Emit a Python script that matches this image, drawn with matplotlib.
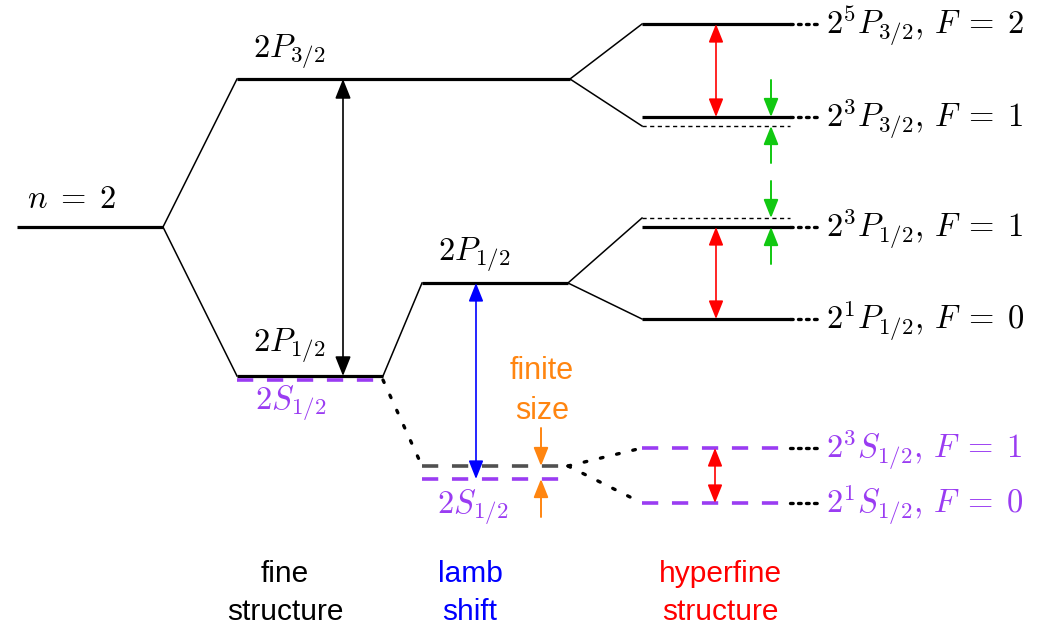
import matplotlib
matplotlib.use("Agg")
import matplotlib.pyplot as plt

plt.rcParams["mathtext.fontset"] = "cm"

# Energies in arbitrary units (higher = more energetic)
E_n2 = 401
E_fine = {"P32": 549, "P12": 252, "S12": 249}
E_lamb = {"P12": 345, "S12_dirac": 162, "S12": 149}
E_hfs_P = {"5P32": 604, "3P32": 511, "P32_bare": 502,
           "3P12": 401, "P12_bare": 410, "1P12": 309}
E_hfs_S = {"3S12": 180, "1S12": 125}

hfs_labels = [r"$2^5P_{3/2},\, F\;=\;2$", r"$2^3P_{3/2},\, F\;=\;1$",
              r"$2^3P_{1/2},\, F\;=\;1$", r"$2^1P_{1/2},\, F\;=\;0$",
              r"$2^3S_{1/2},\, F\;=\;1$", r"$2^1S_{1/2},\, F\;=\;0$"]
hfs_label_E = [E_hfs_P["5P32"], E_hfs_P["3P32"], E_hfs_P["3P12"],
               E_hfs_P["1P12"], E_hfs_S["3S12"], E_hfs_S["1S12"]]

bottom_titles = ["fine\nstructure", "lamb\nshift", "hyperfine\nstructure"]

# Column extents on the horizontal axis
col_n2 = (17, 163)
col_fine = (237, 383)
col_lamb = (422, 568)
col_hfs = (642, 790)
conn_end = 822

PURPLE = "#9a3cf2"
ORANGE = "#ff8510"
GREEN = "#11c811"
GRAY = "#505050"
SANS = "Liberation Sans"
MATH_FS = 23.5

fig = plt.figure(figsize=(10.43, 6.28), dpi=100)
ax = fig.add_axes([0, 0, 1, 1])
ax.set_xlim(0, 1043)
ax.set_ylim(0, 628)
ax.axis("off")

LW_LEVEL = 2.3
LW_THIN = 1.1
dash = (0, (4.5, 3.8))
dots_long = (0, (0.8, 4.2))
dots_short = (0, (0.8, 1.6))


def level(x, E, **kw):
    style = dict(color="k", lw=LW_LEVEL, solid_capstyle="butt")
    style.update(kw)
    ax.plot(x, [E, E], **style)


def link(x0, E0, x1, E1, **kw):
    style = dict(color="k", lw=LW_THIN)
    style.update(kw)
    ax.plot([x0, x1], [E0, E1], **style)


def double_arrow(x, E0, E1, color, ms=14):
    ax.annotate("", xy=(x, E1), xytext=(x, E0),
                arrowprops=dict(arrowstyle="<|-|>,head_length=0.8,head_width=0.32",
                                color=color, lw=1.2, shrinkA=0, shrinkB=0,
                                mutation_scale=ms))


def squeeze_arrows(x, E_top, E_bot, length, color):
    for start, end in [(E_top + length, E_top), (E_bot - length, E_bot)]:
        ax.annotate("", xy=(x, end), xytext=(x, start),
                    arrowprops=dict(arrowstyle="-|>,head_length=0.8,head_width=0.32",
                                    color=color, lw=1.4, shrinkA=0, shrinkB=0,
                                    mutation_scale=14))


# n = 2
level(col_n2, E_n2)
ax.text(27, E_n2 + 28, r"$n\;=\;2$", fontsize=MATH_FS, va="center", ha="left")

# Fine structure
link(col_n2[1], E_n2, col_fine[0], E_fine["P32"])
link(col_n2[1], E_n2, col_fine[0], E_fine["P12"])
level((col_fine[0], col_lamb[1] + 2), E_fine["P32"])
level(col_fine, E_fine["P12"])
level(col_fine, E_fine["S12"] - 1, color=PURPLE, ls=dash, lw=2.6)
double_arrow(343, E_fine["P12"], E_fine["P32"], "k", ms=15)
ax.text(253, E_fine["P32"] + 27, r"$2P_{3/2}$", fontsize=MATH_FS, va="center", ha="left")
ax.text(253, E_fine["P12"] + 30, r"$2P_{1/2}$", fontsize=MATH_FS, va="center", ha="left")
ax.text(255, E_fine["S12"] - 24, r"$2S_{1/2}$", fontsize=MATH_FS, va="center", ha="left",
        color=PURPLE)

# Lamb shift
link(col_fine[1], E_fine["P12"], col_lamb[0], E_lamb["P12"])
link(col_fine[1], E_fine["S12"] - 1, col_lamb[0], E_lamb["S12_dirac"],
     ls=dots_long, lw=2.4, dash_capstyle="round")
level(col_lamb, E_lamb["P12"])
level(col_lamb, E_lamb["S12_dirac"], color=GRAY, ls=dash, lw=2.6)
level(col_lamb, E_lamb["S12"], color=PURPLE, ls=dash, lw=2.6)
double_arrow(476, E_lamb["S12"], E_lamb["P12"], "blue")
ax.text(438, E_lamb["P12"] + 28, r"$2P_{1/2}$", fontsize=MATH_FS, va="center", ha="left")
ax.text(437, E_lamb["S12"] - 28, r"$2S_{1/2}$", fontsize=MATH_FS, va="center", ha="left",
        color=PURPLE)

# Finite-size correction
squeeze_arrows(541, E_lamb["S12_dirac"], E_lamb["S12"], 38, ORANGE)
ax.text(542, 237, "finite\nsize", fontsize=22, ha="center", va="center",
        color=ORANGE, linespacing=1.4, family=SANS)

# Hyperfine structure, P states
link(col_lamb[1] + 2, E_fine["P32"], col_hfs[0], E_hfs_P["5P32"])
link(col_lamb[1] + 2, E_fine["P32"], col_hfs[0], E_hfs_P["P32_bare"])
link(col_lamb[1], E_lamb["P12"], col_hfs[0], E_hfs_P["P12_bare"])
link(col_lamb[1], E_lamb["P12"], col_hfs[0], E_hfs_P["1P12"])
for key in ["5P32", "3P32", "3P12", "1P12"]:
    level(col_hfs, E_hfs_P[key])
for key in ["P32_bare", "P12_bare"]:
    level(col_hfs, E_hfs_P[key], lw=1.0, ls=(0, (3, 2.5)))
double_arrow(716, E_hfs_P["3P32"], E_hfs_P["5P32"], "red")
double_arrow(716, E_hfs_P["1P12"], E_hfs_P["3P12"], "red")
squeeze_arrows(771, E_hfs_P["3P32"], E_hfs_P["P32_bare"], 37, GREEN)
squeeze_arrows(771, E_hfs_P["P12_bare"], E_hfs_P["3P12"], 37, GREEN)

# Hyperfine structure, S states
link(col_lamb[1], E_lamb["S12_dirac"], col_hfs[0], E_hfs_S["3S12"],
     ls=dots_long, lw=2.4, dash_capstyle="round")
link(col_lamb[1], E_lamb["S12_dirac"], col_hfs[0], E_hfs_S["1S12"],
     ls=dots_long, lw=2.4, dash_capstyle="round")
for key in ["3S12", "1S12"]:
    level(col_hfs, E_hfs_S[key], color=PURPLE, ls=dash, lw=2.6)
double_arrow(715, E_hfs_S["1S12"], E_hfs_S["3S12"], "red")

# Connectors and state labels
for i, (lab, E) in enumerate(zip(hfs_labels, hfs_label_E)):
    ax.plot([col_hfs[1], conn_end], [E, E], color="k", lw=2.4,
            ls=dots_short, dash_capstyle="round")
    ax.text(826, E - 10, lab, fontsize=MATH_FS, ha="left", va="baseline",
            color=PURPLE if i >= 4 else "k")

# Column titles
for x, txt, c in zip([285, 470, 720], bottom_titles, ["k", "blue", "red"]):
    ax.text(x, 35, txt, fontsize=21.5, ha="center", va="center", color=c,
            linespacing=1.5, family=SANS)

fig.savefig("out.png", dpi=100)
